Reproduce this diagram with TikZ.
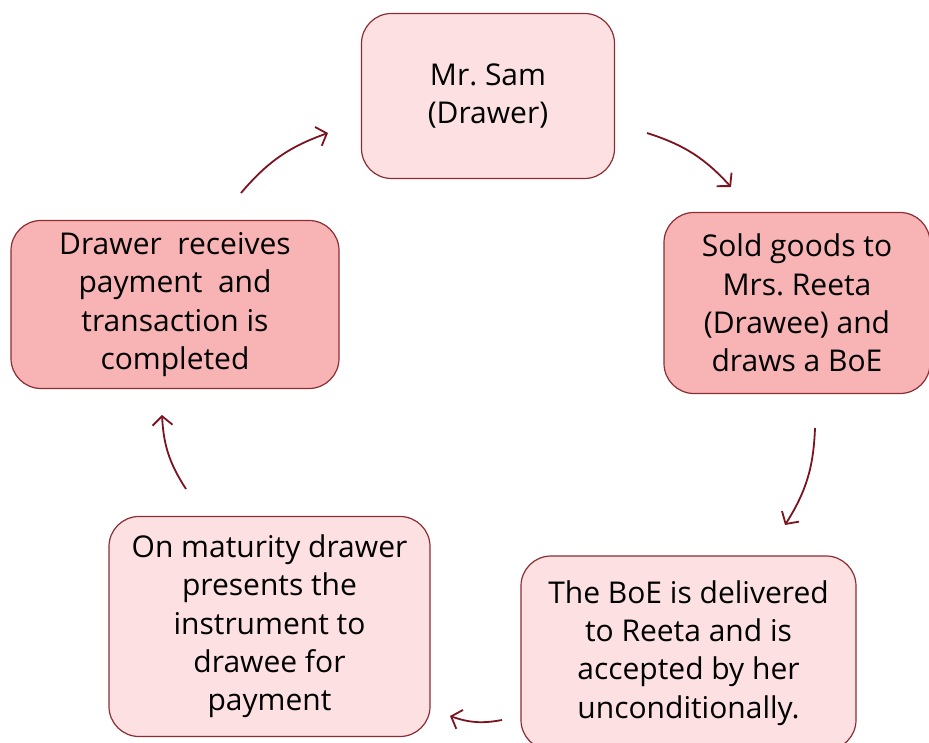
\documentclass[tikz,border=0pt]{standalone}
\usepackage{fontspec}
\setmainfont{Open Sans}
\usetikzlibrary{arrows.meta}
\frenchspacing

\definecolor{bord}{HTML}{8B2D33}
\definecolor{fleche}{HTML}{7A1420}
\definecolor{clair}{HTML}{FDE0E2}
\definecolor{fonce}{HTML}{F8B3B5}

\tikzset{
  etape/.style={draw=bord, line width=1.2pt, rounded corners=30pt, align=center,
    inner sep=0pt, font=\fontsize{30}{38.3}\selectfont},
  etapeclaire/.style={etape, fill=clair},
  etapefoncee/.style={etape, fill=fonce},
  cycle/.style={draw=fleche, line width=1.8pt, -{Straight Barb[length=9pt,width=20pt]}, bend left=15}
}

\begin{document}
\begin{tikzpicture}[x=1pt,y=1pt]
% Limites de l'image
\useasboundingbox (0,0) rectangle (929,742);

% Etapes
\node[etapeclaire, minimum width=253, minimum height=165] (sam) at (488,646) {Mr. Sam\\(Drawer)};
\node[etapefoncee, minimum width=266, minimum height=181] (vente) at (797,439) {Sold goods to\\Mrs. Reeta\\(Drawee) and\\draws a BoE};
\node[etapeclaire, minimum width=335, minimum height=194] (accept) at (688.5,89) {The BoE is delivered\\to Reeta and is\\accepted by her\\unconditionally.};
\node[etapeclaire, minimum width=321, minimum height=220] (echeance) at (269.5,115.5) {On maturity drawer\\presents the\\instrument to\\drawee for\\payment};
\node[etapefoncee, minimum width=328, minimum height=168] (paiement) at (175,437.5) {Drawer\ \ receives\\payment\ \ and\\transaction is\\completed};

% Extremites des fleches
\coordinate (a1) at (647,609);
\coordinate (b1) at (731,555);
\coordinate (a2) at (815,314);
\coordinate (b2) at (785,217);
\coordinate (a3) at (502,22);
\coordinate (b3) at (450,26);
\coordinate (a4) at (186,253);
\coordinate (b4) at (162,327);
\coordinate (a5) at (241,549);
\coordinate (b5) at (328,609);

% Fleches du cycle
\draw[cycle] (a1) to (b1);
\draw[cycle] (a2) to (b2);
\draw[cycle] (a3) to (b3);
\draw[cycle] (a4) to (b4);
\draw[cycle] (a5) to (b5);

\end{tikzpicture}
\end{document}
